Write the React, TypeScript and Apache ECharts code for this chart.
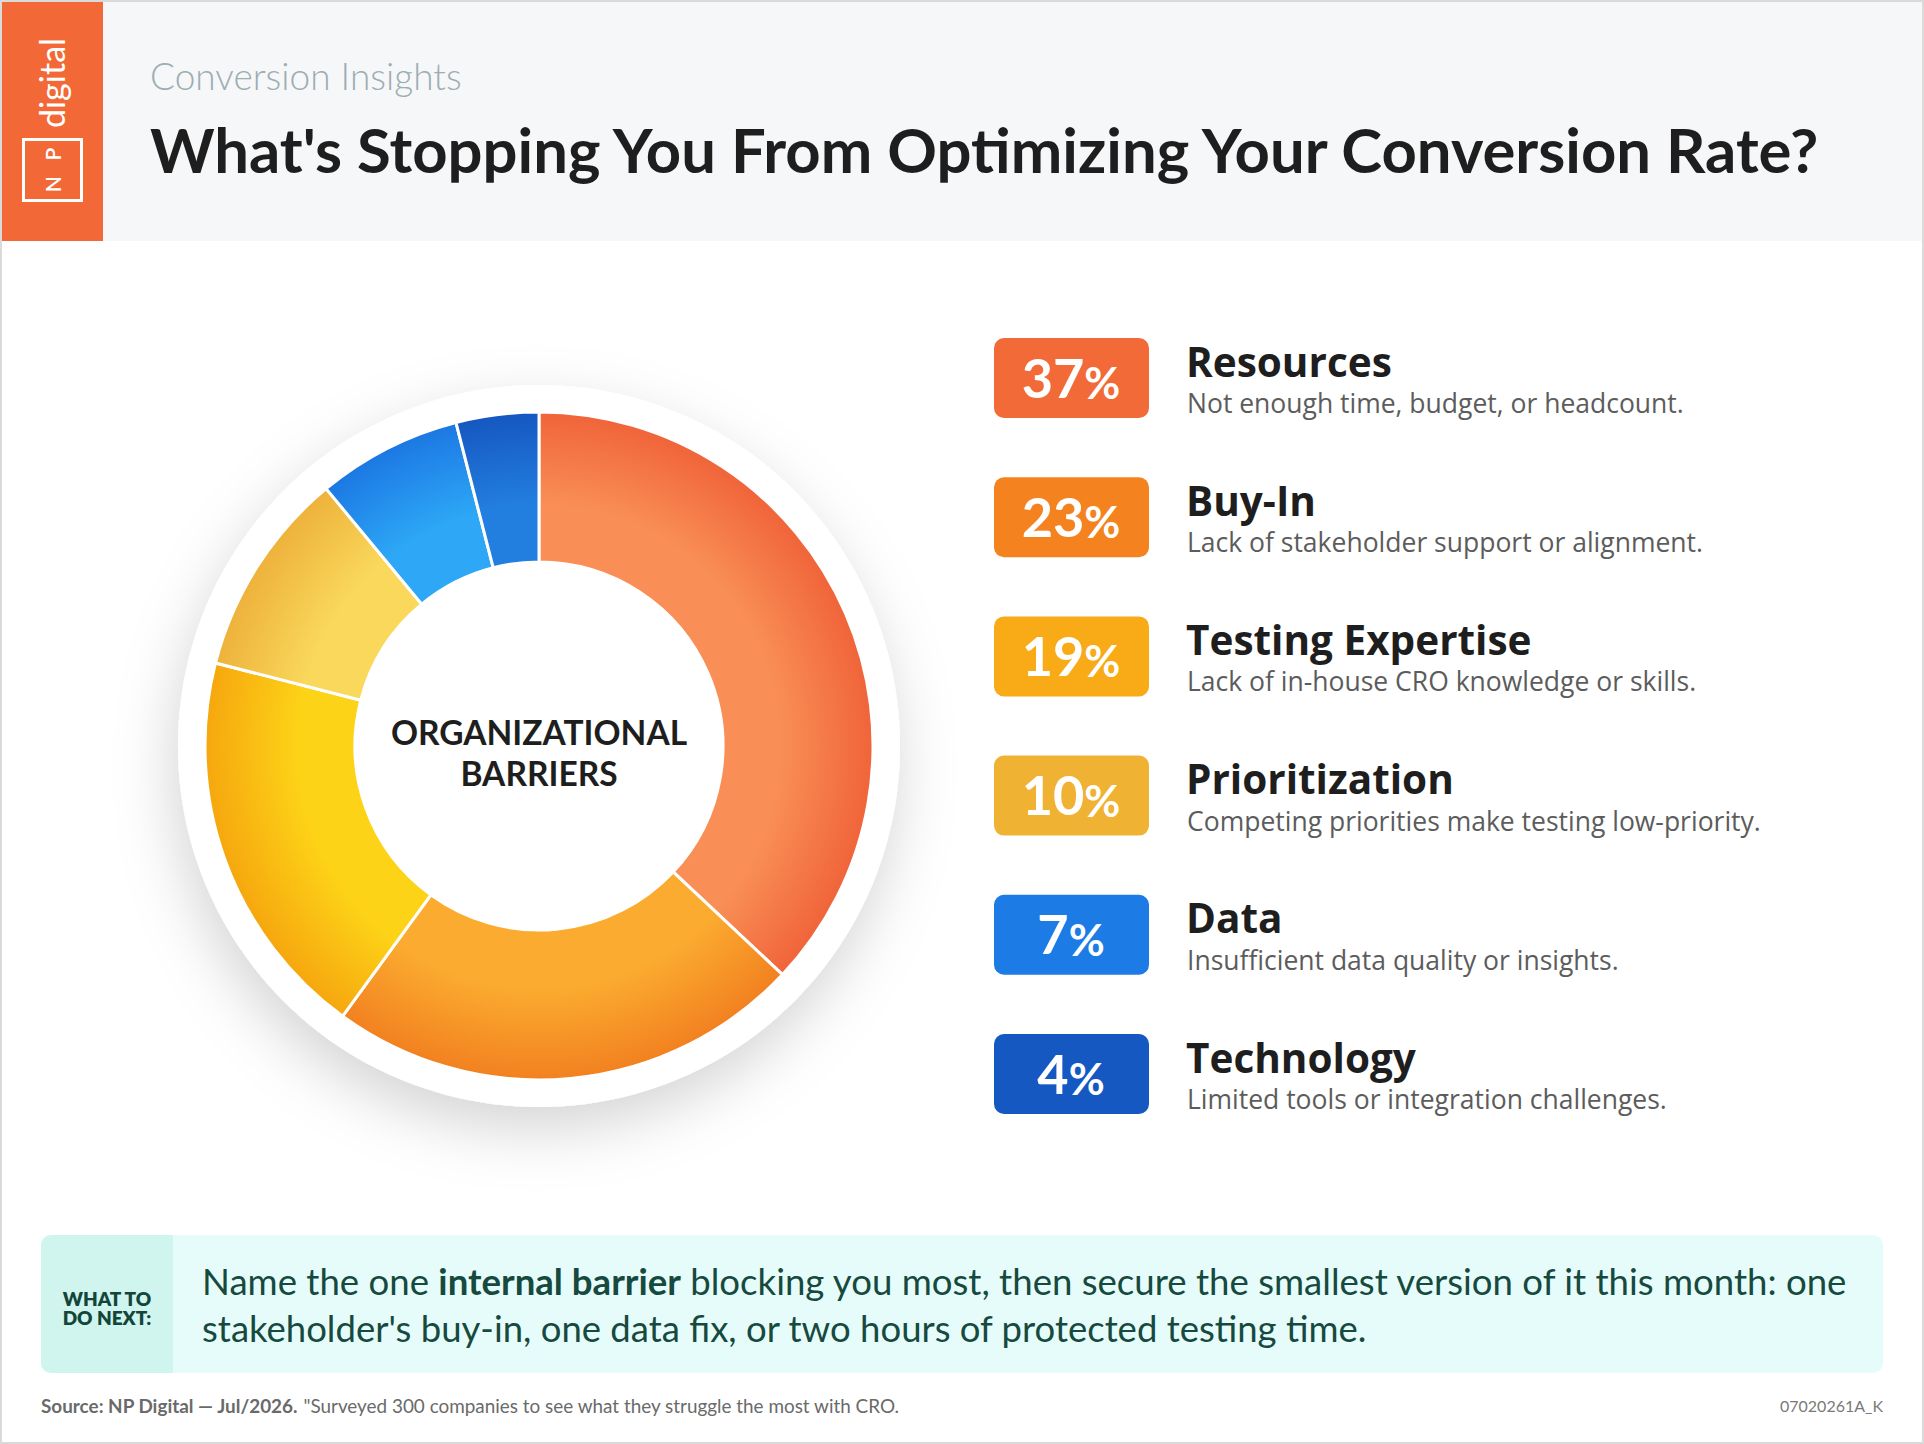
import React, { useEffect, useRef } from "react";
import * as echarts from "echarts";

const categories = ["Resources", "Buy-In", "Testing Expertise", "Prioritization", "Data", "Technology"];
const values = [37, 23, 19, 10, 7, 4];
const descriptions = [
  "Not enough time, budget, or headcount.",
  "Lack of stakeholder support or alignment.",
  "Lack of in-house CRO knowledge or skills.",
  "Competing priorities make testing low-priority.",
  "Insufficient data quality or insights.",
  "Limited tools or integration challenges.",
];
const badgeColors = ["#F26A37", "#F4831F", "#F8AA17", "#F0B233", "#1C7BE4", "#1558C2"];
const innerColors = ["#F98F56", "#FBAC30", "#FDD317", "#F9D85B", "#2DA7F6", "#237FDF"];
const outerColors = ["#F0643A", "#F28120", "#F6A70F", "#EEB23B", "#1C78E3", "#1557C1"];

const FONT = "Lato, 'Open Sans', sans-serif";
const FONT2 = "'Open Sans', Lato, sans-serif";
const W = 1924;
const H = 1444;
const CX = 539;
const CY = 746;
const R_OUT = 334;
const R_IN = 184;
const R_RING = 361;

export default function App() {
  const ref = useRef<HTMLDivElement>(null);

  useEffect(() => {
    if (!ref.current) return;
    const chart = echarts.init(ref.current, null, { renderer: "svg", width: W, height: H });

    const pieData = categories.map((name, i) => ({
      name,
      value: values[i],
      itemStyle: {
        color: new echarts.graphic.RadialGradient(
          CX,
          CY,
          R_OUT,
          [
            { offset: 0, color: innerColors[i] },
            { offset: 0.72, color: innerColors[i] },
            { offset: 1, color: outerColors[i] },
          ],
          true
        ),
        borderColor: "#ffffff",
        borderWidth: 3,
      },
    }));

    const graphics: any[] = [];
    // header
    graphics.push({ type: "rect", shape: { x: 0, y: 0, width: W, height: 241 }, style: { fill: "#F6F7F9" }, z: 1 });
    graphics.push({ type: "rect", shape: { x: 2, y: 2, width: 101, height: 239 }, style: { fill: "#F26836" }, z: 2 });
    graphics.push({
      type: "text",
      x: 51,
      y: 83,
      rotation: Math.PI / 2,
      style: { text: "digital", fill: "#ffffff", font: `400 34px ${FONT}`, textAlign: "center", textVerticalAlign: "middle" },
      z: 3,
    });
    graphics.push({
      type: "rect",
      shape: { x: 23.5, y: 139.5, width: 58, height: 61 },
      style: { fill: "none", stroke: "#ffffff", lineWidth: 3 },
      z: 3,
    });
    graphics.push({
      type: "text",
      x: 52,
      y: 170,
      rotation: Math.PI / 2,
      style: { text: "N   P", fill: "#ffffff", font: `600 21px ${FONT}`, textAlign: "center", textVerticalAlign: "middle" },
      z: 3,
    });
    graphics.push({
      type: "text",
      x: 150,
      y: 75.5,
      style: { text: "Conversion Insights", fill: "#9DADB1", font: `300 37px ${FONT}`, textVerticalAlign: "middle" },
      z: 3,
    });
    graphics.push({
      type: "text",
      x: 150,
      y: 149,
      style: {
        text: "What's Stopping You From Optimizing Your Conversion Rate?",
        fill: "#1E1E1E",
        font: `700 61.6px ${FONT}`,
        textVerticalAlign: "middle",
      },
      z: 3,
    });

    // center label
    graphics.push({
      type: "text",
      x: CX,
      y: CY - 14,
      style: { text: "ORGANIZATIONAL", fill: "#1E1E1E", font: `700 33.5px ${FONT}`, textAlign: "center", textVerticalAlign: "middle" },
      z: 10,
    });
    graphics.push({
      type: "text",
      x: CX,
      y: CY + 26.5,
      style: { text: "BARRIERS", fill: "#1E1E1E", font: `700 33.5px ${FONT}`, textAlign: "center", textVerticalAlign: "middle" },
      z: 10,
    });

    // list
    categories.forEach((name, i) => {
      const top = 338 + i * 139.2;
      graphics.push({
        type: "rect",
        shape: { x: 994, y: top, width: 155, height: 80, r: 10 },
        style: { fill: badgeColors[i] },
        z: 3,
      });
      graphics.push({
        type: "text",
        x: 1071,
        y: top + 38,
        style: {
          text: `{n|${values[i]}}{p|%}`,
          textAlign: "center",
          textVerticalAlign: "middle",
          rich: {
            n: { fill: "#fff", color: "#fff", font: `700 54px ${FONT}`, fontSize: 54, fontWeight: 700, fontFamily: FONT, verticalAlign: "bottom", lineHeight: 56 },
            p: { fill: "#fff", color: "#fff", font: `700 44px ${FONT}`, fontSize: 44, fontWeight: 700, fontFamily: FONT, verticalAlign: "bottom", lineHeight: 56 },
          },
        },
        z: 4,
      });
      graphics.push({
        type: "text",
        x: 1186,
        y: top + 23,
        style: { text: name, fill: "#1E1E1E", font: `700 40.5px ${FONT2}`, textVerticalAlign: "middle" },
        z: 3,
      });
      graphics.push({
        type: "text",
        x: 1187,
        y: top + 65,
        style: { text: descriptions[i], fill: "#5C5C5C", font: `400 26.5px ${FONT2}`, textVerticalAlign: "middle" },
        z: 3,
      });
    });

    // what to do next box
    graphics.push({
      type: "rect",
      shape: { x: 41, y: 1235, width: 1842, height: 138, r: 10 },
      style: { fill: "#E6FCFA" },
      z: 2,
    });
    graphics.push({
      type: "rect",
      shape: { x: 41, y: 1235, width: 132, height: 138, r: [10, 0, 0, 10] },
      style: { fill: "#D0F5EF" },
      z: 3,
    });
    graphics.push({
      type: "text",
      x: 107,
      y: 1298,
      style: { text: "WHAT TO", fill: "#13463A", font: `800 19px ${FONT}`, textAlign: "center", textVerticalAlign: "middle" },
      z: 4,
    });
    graphics.push({
      type: "text",
      x: 107,
      y: 1317.5,
      style: { text: "DO NEXT:", fill: "#13463A", font: `800 19px ${FONT}`, textAlign: "center", textVerticalAlign: "middle" },
      z: 4,
    });
    graphics.push({
      type: "text",
      x: 202,
      y: 1281,
      style: {
        text: "Name the one {b|internal barrier} blocking you most, then secure the smallest version of it this month: one",
        fill: "#164A3F",
        font: `400 36.6px ${FONT}`,
        textVerticalAlign: "middle",
        rich: {
          b: { fill: "#164A3F", color: "#164A3F", font: `700 36.6px ${FONT}`, fontSize: 36.6, fontWeight: 700, fontFamily: FONT },
        },
      },
      z: 4,
    });
    graphics.push({
      type: "text",
      x: 202,
      y: 1328,
      style: {
        text: "stakeholder's buy-in, one data fix, or two hours of protected testing time.",
        fill: "#164A3F",
        font: `400 36.5px ${FONT}`,
        textVerticalAlign: "middle",
      },
      z: 4,
    });

    // footer
    graphics.push({
      type: "text",
      x: 41,
      y: 1405,
      style: {
        text: '{b|Source: NP Digital — Jul/2026.} "Surveyed 300 companies to see what they struggle the most with CRO.',
        fill: "#6A6A6A",
        font: `400 18.9px ${FONT}`,
        textVerticalAlign: "middle",
        rich: {
          b: { fill: "#6A6A6A", color: "#6A6A6A", font: `700 18.9px ${FONT}`, fontSize: 18.9, fontWeight: 700, fontFamily: FONT },
        },
      },
      z: 4,
    });
    graphics.push({
      type: "text",
      x: 1883,
      y: 1405,
      style: { text: "07020261A_K", fill: "#7A7A7A", font: `400 16px ${FONT}`, textAlign: "right", textVerticalAlign: "middle" },
      z: 4,
    });

    // outer frame
    graphics.push({
      type: "rect",
      shape: { x: 1, y: 1, width: W - 2, height: H - 2 },
      style: { fill: "none", stroke: "#DADADA", lineWidth: 2 },
      z: 20,
    });

    chart.setOption({
      animation: false,
      backgroundColor: "#ffffff",
      series: [
        {
          type: "pie",
          name: "ring",
          silent: true,
          center: [CX, CY],
          radius: [0, R_RING],
          label: { show: false },
          labelLine: { show: false },
          z: 1,
          data: [
            {
              value: 1,
              itemStyle: {
                color: "#ffffff",
                shadowBlur: 60,
                shadowColor: "rgba(0,0,0,0.17)",
                shadowOffsetY: 22,
                shadowOffsetX: -4,
              },
            },
          ],
        },
        {
          type: "pie",
          name: "Organizational barriers",
          center: [CX, CY],
          radius: [R_IN, R_OUT],
          startAngle: 90,
          clockwise: true,
          avoidLabelOverlap: false,
          label: { show: false },
          labelLine: { show: false },
          emphasis: { disabled: true },
          z: 2,
          data: pieData,
        },
      ],
      graphic: { elements: graphics },
    });

    return () => chart.dispose();
  }, []);

  return <div ref={ref} style={{ position: "absolute", left: 0, top: 0, width: W, height: H }} />;
}
